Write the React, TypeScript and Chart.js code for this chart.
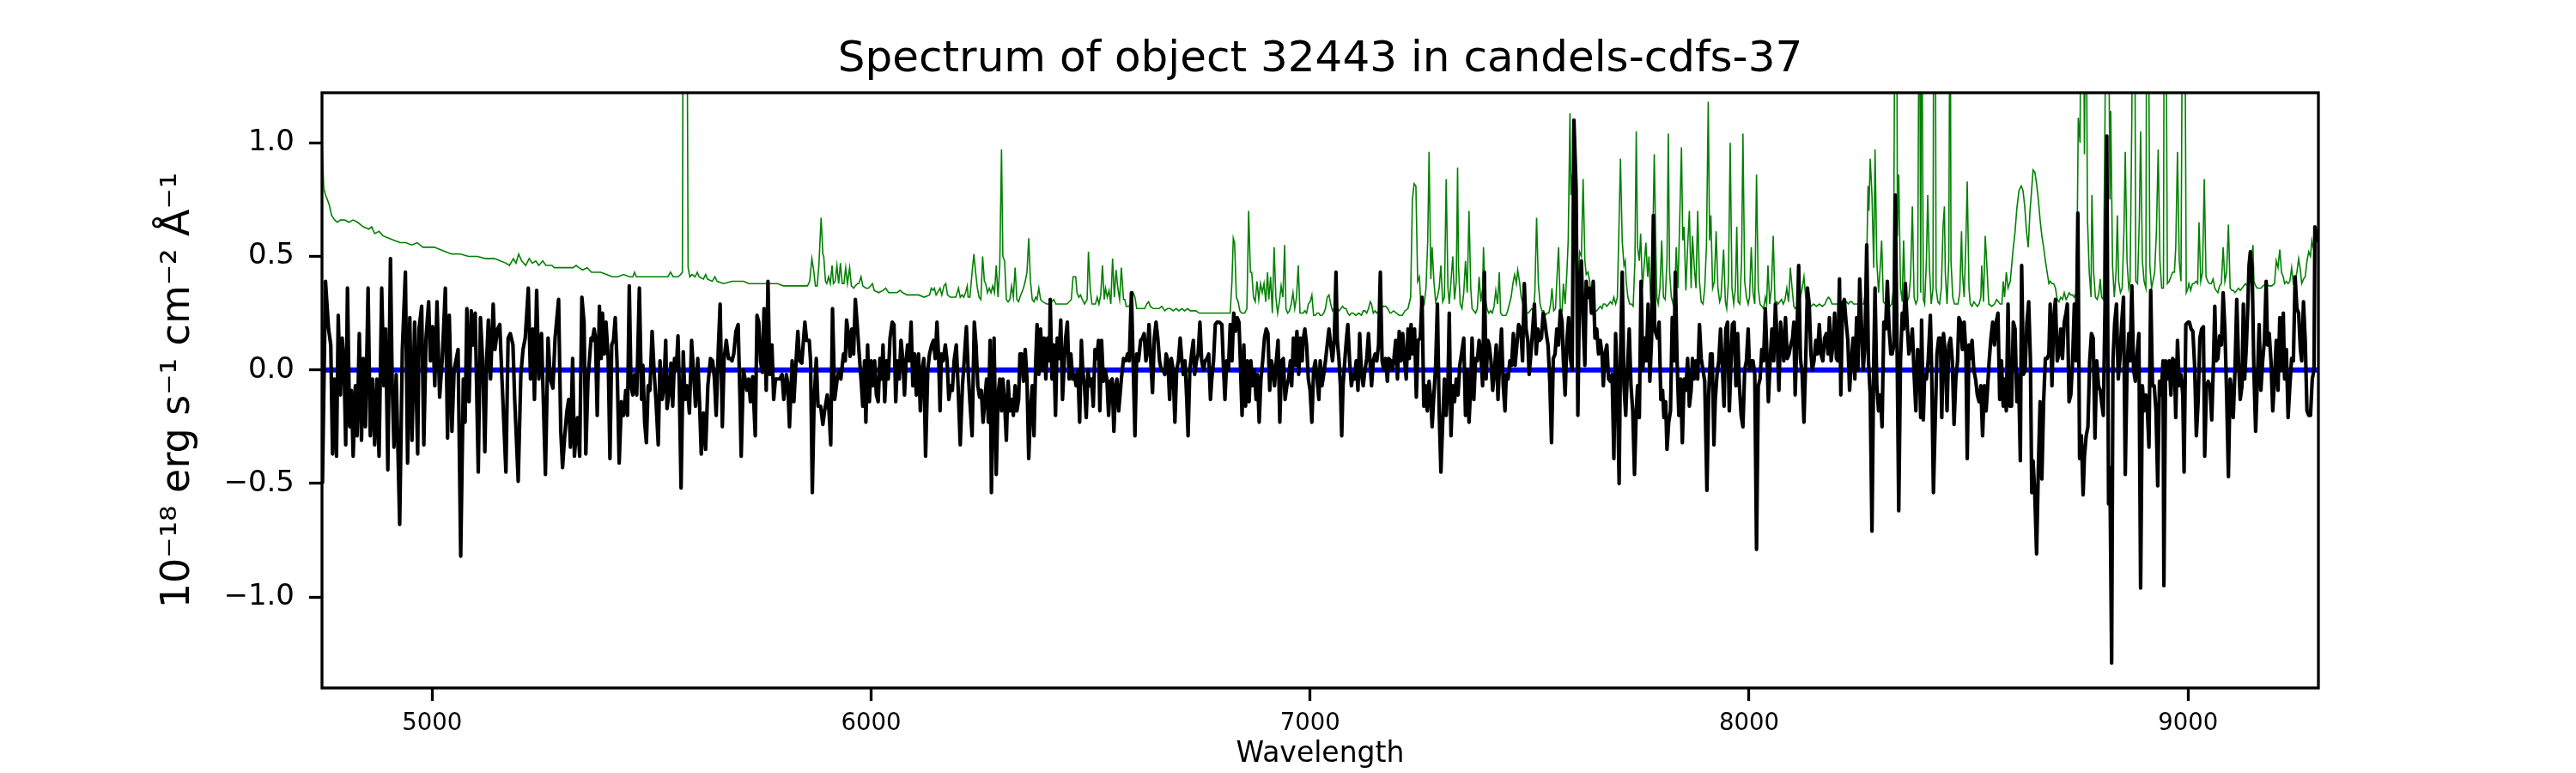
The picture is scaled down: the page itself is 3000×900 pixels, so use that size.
import { useEffect, useRef } from "react";
import { Chart, registerables } from "chart.js";

Chart.register(...registerables);

const TITLE = "Spectrum of object 32443 in candels-cdfs-37";
const X_LABEL = "Wavelength";
const Y_LABEL = "10⁻¹⁸ erg s⁻¹ cm⁻² Å⁻¹";
const X_TICKS = [5000, 6000, 7000, 8000, 9000];
const Y_TICKS = [-1.0, -0.5, 0.0, 0.5, 1.0];
const X_MIN = 4749;
const X_MAX = 9297;
const Y_MIN = -1.4;
const Y_MAX = 1.22;

// [wavelength, flux] of the zero reference line
const ZERO_LINE: Array<[number, number]> = [[4749, 0], [9297, 0]];

// [wavelength, flux] of the object spectrum (black)
const SPECTRUM: Array<[number, number]> = [
  [4750,-0.50],[4757,0.39],[4764,0.18],[4769,0.11],[4773,-0.37],[4777,-0.04],[4782,-0.38],[4786,0.24],[4791,-0.11],[4795,0.14],
  [4799,0.04],[4803,-0.33],[4807,0.36],[4812,-0.25],[4816,-0.09],[4820,-0.38],[4825,-0.07],[4829,-0.29],[4834,0.16],[4839,-0.31],
  [4843,0.05],[4848,-0.25],[4854,0.36],[4859,-0.29],[4864,-0.04],[4869,-0.33],[4874,-0.04],[4879,-0.38],[4885,0.36],[4890,-0.07],
  [4894,0.18],[4899,-0.44],[4905,0.49],[4909,-0.07],[4913,-0.34],[4918,-0.02],[4926,-0.68],[4932,0.09],[4939,0.43],[4944,-0.41],
  [4949,0.23],[4954,-0.31],[4960,0.21],[4967,-0.37],[4970,0.18],[4976,0.28],[4981,-0.33],[4986,0.14],[4992,0.30],[4996,0.04],
  [5001,0.19],[5006,-0.07],[5011,0.30],[5017,-0.12],[5023,0.05],[5030,0.36],[5035,-0.30],[5039,0.24],[5045,-0.27],[5050,0.0],
  [5054,0.04],[5059,0.09],[5065,-0.82],[5071,-0.04],[5075,-0.23],[5079,0.27],[5084,-0.14],[5089,0.26],[5094,0.11],[5098,0.25],
  [5105,-0.45],[5110,0.23],[5115,0.04],[5120,-0.36],[5124,0.04],[5128,0.22],[5133,-0.04],[5139,0.29],[5143,0.09],[5149,0.18],
  [5154,0.20],[5159,-0.04],[5168,-0.45],[5173,0.14],[5178,0.16],[5184,0.11],[5188,-0.13],[5196,-0.49],[5202,-0.02],[5207,0.09],
  [5212,0.14],[5219,0.36],[5224,-0.04],[5229,0.18],[5233,-0.13],[5238,0.35],[5243,-0.04],[5249,0.16],[5258,-0.46],[5264,0.14],
  [5269,-0.04],[5275,-0.08],[5280,0.14],[5288,0.31],[5293,-0.27],[5297,-0.43],[5302,-0.29],[5307,-0.18],[5311,-0.13],[5315,-0.34],
  [5320,0.05],[5324,-0.38],[5331,-0.21],[5336,-0.38],[5341,0.32],[5346,0.21],[5350,-0.37],[5355,-0.04],[5362,0.14],
  [5365,0.13],[5369,0.18],[5372,0.14],[5376,-0.20],[5381,0.28],[5385,0.05],[5388,0.25],[5392,0.07],[5396,0.21],[5401,0.05],
  [5405,-0.39],[5409,0.11],[5413,0.13],[5417,0.23],[5421,0.04],[5426,-0.41],[5431,-0.14],[5436,-0.20],[5441,-0.09],[5445,-0.20],
  [5449,0.37],[5453,-0.07],[5457,-0.11],[5461,-0.02],[5466,-0.11],[5472,0.36],[5477,-0.13],[5480,0.02],[5484,-0.23],[5488,-0.32],
  [5492,-0.07],[5496,-0.09],[5501,0.17],[5506,-0.02],[5510,-0.14],[5515,-0.33],[5519,0.04],[5524,-0.13],[5528,-0.07],[5532,0.13],
  [5535,-0.17],[5539,-0.11],[5544,0.03],[5548,-0.16],[5552,0.05],[5556,0.0],[5560,0.15],[5563,-0.07],[5567,-0.52],[5572,0.08],
  [5576,-0.13],[5581,-0.07],[5586,-0.19],[5591,0.13],[5595,0.0],[5600,-0.16],[5605,0.05],[5609,-0.14],[5613,-0.37],[5618,-0.19],
  [5623,-0.35],[5628,-0.07],[5634,0.05],[5639,0.04],[5643,-0.04],[5647,-0.20],[5652,0.10],[5656,0.29],[5661,-0.25],[5665,0.05],
  [5670,0.13],[5675,0.05],[5679,0.05],[5683,0.04],[5687,0.07],[5692,0.17],[5697,0.20],[5701,-0.11],[5704,-0.38],[5709,0.0],
  [5713,-0.04],[5717,-0.09],[5721,-0.04],[5725,-0.14],[5730,-0.03],[5736,-0.29],[5740,0.24],[5744,0.21],[5748,0.04],[5752,-0.01],
  [5756,0.27],[5761,-0.09],[5765,0.39],[5769,-0.02],[5774,0.11],[5778,-0.13],[5782,-0.04],[5787,-0.04],[5792,-0.04],[5797,-0.02],
  [5801,-0.13],[5807,-0.02],[5810,-0.06],[5814,-0.25],[5820,0.04],[5824,-0.14],[5829,0.04],[5833,0.17],[5837,0.04],[5842,0.03],
  [5849,0.21],[5853,0.13],[5859,0.13],[5862,0.04],[5866,-0.54],[5870,-0.14],[5875,0.05],[5879,-0.16],[5885,-0.16],[5890,-0.24],
  [5894,-0.18],[5900,-0.11],[5904,-0.18],[5908,-0.33],[5912,0.27],[5917,-0.13],[5922,-0.05],[5927,0.0],[5931,-0.04],[5937,0.07],
  [5941,0.04],[5944,0.22],[5948,0.16],[5952,0.06],[5956,0.18],[5960,0.07],[5964,0.31],[5969,0.18],
  [5972,0.09],[5977,-0.04],[5981,-0.16],[5985,0.04],[5988,-0.23],[5992,0.11],[5996,-0.14],[6000,0.04],[6004,-0.07],[6008,0.04],
  [6012,-0.11],[6016,-0.14],[6020,0.05],[6024,-0.04],[6027,0.11],[6031,-0.14],[6035,0.04],[6039,-0.04],[6043,0.14],[6048,0.21],
  [6052,0.20],[6056,-0.14],[6060,0.04],[6064,-0.04],[6068,0.13],[6072,0.05],[6076,-0.11],[6079,0.02],[6083,0.11],[6087,0.04],
  [6091,0.21],[6095,-0.07],[6099,0.07],[6103,-0.11],[6108,0.07],[6112,-0.18],[6116,0.0],[6120,0.05],[6124,-0.38],[6129,0.0],
  [6133,0.07],[6138,0.11],[6142,0.13],[6146,0.05],[6150,0.21],[6154,0.04],[6157,-0.18],[6160,0.07],[6164,0.04],[6169,0.11],
  [6173,0.04],[6177,-0.13],[6181,-0.07],[6185,-0.09],[6189,0.04],[6194,0.11],[6198,-0.07],[6203,-0.33],[6208,-0.07],[6212,0.04],
  [6217,0.19],[6221,0.0],[6225,-0.14],[6230,-0.29],[6235,0.21],[6239,0.11],[6243,-0.07],[6247,-0.12],[6251,-0.09],[6255,-0.23],
  [6259,-0.13],[6263,-0.04],[6267,-0.23],[6271,0.13],[6274,-0.54],[6280,0.14],[6285,-0.46],[6289,-0.11],[6293,-0.04],[6297,-0.18],
  [6300,-0.04],[6304,-0.14],[6308,-0.31],[6312,-0.05],[6316,-0.18],[6320,-0.13],[6324,-0.20],[6328,-0.07],[6332,-0.18],[6336,-0.13],
  [6339,0.07],[6343,0.07],[6347,-0.05],[6351,0.09],[6355,-0.04],[6359,-0.39],[6363,-0.18],[6367,-0.07],[6371,-0.29],[6375,0.04],
  [6378,0.20],[6382,-0.02],[6386,0.18],[6390,0.0],[6394,0.14],[6398,-0.04],[6402,0.14],[6406,0.04],[6408,0.31],[6412,-0.04],
  [6416,0.11],[6420,-0.20],[6424,0.14],[6428,0.05],[6432,0.22],[6436,-0.13],[6440,0.04],[6443,0.14],[6447,0.21],[6451,-0.04],
  [6455,0.07],[6459,-0.04],[6463,-0.02],[6467,-0.07],[6471,0.0],[6475,-0.23],[6479,0.13],[6482,0.0],[6486,-0.07],[6490,-0.21],
  [6494,0.0],[6498,-0.07],[6502,-0.04],[6506,-0.16],[6510,0.09],[6514,0.05],[6518,0.13],[6521,-0.18],[6525,0.13],[6529,-0.05],
  [6533,0.0],[6537,-0.04],[6541,-0.20],[6545,-0.05],[6549,-0.04],[6553,-0.27],[6557,-0.07],[6560,-0.04],[6564,-0.18],[6570,-0.04],
  [6575,0.05],
  [6580,0.04],[6584,0.07],[6588,0.04],[6593,0.34],[6597,0.02],[6601,-0.29],[6605,0.07],[6609,0.04],[6614,0.13],[6618,0.14],
  [6622,0.16],[6626,0.04],[6630,0.09],[6633,0.20],[6637,0.04],[6641,-0.10],[6645,0.14],[6649,0.21],[6653,0.14],[6657,0.04],
  [6661,0.0],[6665,0.0],[6669,-0.02],[6672,0.07],[6676,0.04],[6680,-0.13],[6684,0.05],[6688,0.0],[6692,-0.23],[6696,0.0],
  [6700,0.04],[6704,0.14],[6708,0.04],[6711,-0.02],[6715,0.04],[6719,-0.13],[6722,-0.29],[6726,0.0],[6730,0.07],[6734,0.13],
  [6737,-0.02],[6741,0.04],[6745,0.07],[6749,0.21],[6753,0.04],[6757,0.0],[6761,0.04],[6765,0.05],[6769,0.07],[6773,-0.13],
  [6776,-0.04],[6780,0.04],[6784,0.20],[6788,0.21],[6793,0.21],[6799,0.20],[6802,0.04],[6806,-0.13],[6810,0.04],[6814,0.0],
  [6818,0.20],[6822,0.04],[6826,0.25],[6830,0.17],[6834,0.23],[6838,0.21],[6841,0.04],[6845,-0.20],[6849,0.11],[6853,-0.16],
  [6857,0.04],[6861,-0.14],[6865,0.04],[6869,-0.07],[6873,0.0],[6877,-0.13],[6880,-0.02],[6884,-0.23],[6888,-0.04],[6892,0.04],
  [6896,0.14],[6900,0.18],[6904,0.16],[6908,-0.09],[6912,0.04],[6916,0.0],[6919,-0.07],[6923,0.04],[6927,0.13],[6931,-0.23],
  [6935,0.04],[6939,0.05],[6943,-0.13],[6947,-0.07],[6951,-0.04],[6955,0.04],[6958,-0.07],[6962,0.14],[6966,0.02],[6970,0.17],
  [6974,-0.02],[6978,0.14],[6982,0.04],[6984,0.13],[6988,0.18],[6992,0.11],[6996,-0.04],[7000,-0.09],[7004,-0.23],[7008,0.0],
  [7012,0.04],[7016,-0.04],[7020,-0.13],[7023,0.04],[7027,-0.07],[7031,-0.02],[7035,0.04],[7039,0.11],[7043,0.18],[7047,0.11],
  [7051,0.04],[7055,0.13],[7059,0.43],[7062,0.13],[7066,0.04],[7069,-0.07],[7072,-0.29],[7075,-0.07],[7079,0.04],[7083,0.14],
  [7086,0.20],[7090,0.04],[7094,-0.07],[7098,-0.02],[7101,-0.04],[7105,0.04],[7109,-0.09],[7113,0.16],[7117,-0.02],[7121,-0.07],
  [7125,0.0],[7129,0.05],[7133,0.16],[7137,0.02],[7140,-0.07],[7144,0.04],[7148,0.07],[7152,0.04],[7156,0.11],[7160,0.43],
  [7164,0.04],[7168,0.0],[7172,0.05],[7176,-0.05],[7179,0.05],
  [7184,0.04],[7187,0.0],[7191,0.05],[7195,0.13],[7199,-0.04],[7203,0.17],[7207,0.04],[7211,0.16],[7215,0.05],[7219,-0.04],
  [7223,0.18],[7226,0.05],[7230,0.20],[7234,0.07],[7238,0.18],[7242,-0.12],[7246,0.13],[7251,0.14],[7255,0.32],[7259,-0.16],
  [7263,-0.07],[7267,-0.18],[7271,-0.05],[7275,-0.13],[7278,-0.25],[7282,-0.11],[7286,0.02],[7290,0.29],[7294,-0.18],[7298,-0.45],
  [7302,-0.23],[7306,-0.04],[7310,-0.20],[7314,-0.07],[7317,0.25],[7321,-0.29],[7325,-0.07],[7329,-0.14],[7333,-0.04],[7337,-0.11],
  [7341,0.02],[7345,0.07],[7350,0.14],[7354,-0.20],[7358,0.0],[7362,-0.23],[7366,-0.07],[7369,0.14],[7373,-0.13],[7377,0.05],
  [7381,0.04],[7385,0.13],[7389,0.07],[7393,-0.07],[7397,0.43],[7401,-0.04],[7405,0.13],[7408,0.11],[7412,0.04],[7416,-0.09],
  [7420,0.0],[7424,0.11],[7428,-0.13],[7432,0.04],[7436,0.18],[7440,-0.07],[7444,-0.18],[7447,-0.02],[7451,-0.04],[7455,0.04],
  [7459,0.02],[7463,0.16],[7467,0.02],[7471,0.11],[7475,0.20],[7480,0.18],[7484,0.04],[7488,0.38],[7492,0.18],[7496,0.13],
  [7499,-0.02],[7503,0.07],[7507,0.18],[7511,0.29],[7515,0.07],[7519,0.18],[7523,0.13],[7527,0.14],[7531,0.25],[7535,0.21],
  [7538,0.16],[7542,0.11],[7546,-0.05],[7550,-0.32],[7554,0.05],[7558,0.07],[7562,0.18],[7566,0.11],[7570,0.26],[7574,0.21],
  [7577,0.04],[7581,-0.11],[7585,0.13],[7589,0.23],[7593,0.05],[7597,0.0],[7601,1.10],[7606,0.80],[7610,-0.20],[7614,0.39],
  [7618,0.48],[7622,0.21],[7626,0.02],[7629,0.39],[7633,0.32],[7637,0.36],[7641,0.25],[7645,0.39],[7649,0.14],[7653,0.18],
  [7657,0.07],[7661,0.13],[7665,0.07],[7668,-0.07],[7672,0.07],[7676,0.11],[7680,-0.04],[7684,-0.05],[7688,-0.02],[7692,-0.39],
  [7696,0.16],[7700,-0.07],[7704,-0.50],[7707,0.04],[7711,0.43],[7715,-0.07],[7719,-0.20],[7723,0.0],[7727,0.18],[7731,-0.07],
  [7735,-0.18],[7739,-0.46],[7743,-0.18],[7746,-0.07],[7750,-0.21],[7754,0.39],[7758,0.0],[7762,0.14],[7766,0.04],[7770,0.29],
  [7774,-0.05],[7778,0.14],[7782,0.68],[7785,0.18],
  [7791,0.14],[7795,0.21],[7799,-0.13],[7803,-0.09],[7806,-0.21],[7810,-0.14],[7813,-0.35],[7817,-0.23],[7821,-0.18],[7825,0.23],
  [7829,0.04],[7832,0.43],[7836,0.04],[7840,-0.20],[7844,-0.04],[7848,-0.32],[7852,-0.04],[7856,-0.09],[7860,0.05],[7864,-0.16],
  [7868,-0.09],[7871,0.05],[7875,-0.04],[7879,0.04],[7883,-0.04],[7887,0.20],[7891,0.05],[7895,0.0],[7899,-0.05],[7904,-0.53],
  [7908,-0.11],[7912,0.07],[7916,0.07],[7920,-0.33],[7923,-0.13],[7927,-0.02],[7931,0.04],[7935,0.18],[7939,0.02],[7943,-0.16],
  [7947,0.18],[7951,0.21],[7955,-0.18],[7959,0.04],[7962,0.20],[7966,0.21],[7970,-0.07],[7974,0.16],[7978,-0.07],[7982,-0.20],
  [7986,-0.25],[7990,0.0],[7994,0.04],[7998,0.18],[8001,0.0],[8005,0.04],[8009,0.04],[8013,-0.02],[8017,-0.79],[8021,-0.07],
  [8025,-0.04],[8029,0.09],[8033,0.04],[8037,0.27],[8040,0.11],[8044,-0.14],[8048,0.04],[8052,0.18],[8056,0.04],[8060,0.29],
  [8064,0.13],[8068,-0.09],[8072,0.21],[8076,0.11],[8079,0.04],[8083,0.23],[8087,0.05],[8091,0.07],[8095,0.11],[8099,0.14],
  [8102,0.21],[8105,-0.11],[8109,0.14],[8113,0.46],[8117,0.05],[8121,-0.02],[8125,-0.23],[8129,0.04],[8133,0.36],[8137,0.29],
  [8141,0.07],[8144,0.0],[8148,0.04],[8152,0.13],[8156,0.07],[8160,0.20],[8164,0.07],[8168,0.04],[8172,0.14],[8176,0.16],
  [8180,0.07],[8183,0.23],[8187,0.04],[8191,0.11],[8195,0.25],[8199,0.05],[8202,0.04],[8206,0.40],[8209,-0.11],[8213,0.29],
  [8217,0.31],[8221,0.21],[8225,0.13],[8229,-0.09],[8233,0.04],[8237,0.14],[8241,-0.04],[8245,0.23],[8248,0.0],[8252,0.40],
  [8256,0.20],[8260,0.0],[8264,0.11],[8268,0.55],[8272,0.04],[8276,-0.11],[8280,-0.71],[8284,0.04],[8287,0.36],[8291,-0.07],
  [8295,-0.18],[8299,-0.11],[8303,-0.25],[8307,0.21],[8311,0.18],[8315,0.39],[8319,0.18],[8323,0.07],[8326,0.07],[8330,0.11],
  [8333,0.77],[8337,0.14],[8341,-0.62],[8345,0.04],[8349,0.25],[8352,0.18],[8356,0.38],[8360,0.21],[8364,0.07],[8368,0.11],
  [8372,0.18],[8376,-0.02],[8380,-0.18],[8384,0.09],[8388,0.04],[8391,-0.21],
  [8393,0.22],[8397,-0.22],[8400,-0.02],[8404,-0.04],[8408,0.04],[8413,0.24],[8416,0.0],[8420,-0.54],[8424,-0.23],[8428,0.07],
  [8432,0.14],[8436,0.14],[8439,-0.21],[8443,0.16],[8447,0.07],[8451,-0.18],[8455,0.11],[8459,0.14],[8463,0.04],[8467,-0.24],
  [8471,-0.04],[8475,0.04],[8478,0.23],[8482,0.21],[8486,0.09],[8490,0.21],[8494,0.07],[8497,-0.39],[8501,0.11],[8504,0.05],
  [8508,0.13],[8512,0.0],[8516,-0.04],[8520,-0.11],[8524,-0.14],[8528,-0.07],[8532,-0.29],[8536,-0.07],[8540,-0.18],[8543,-0.09],
  [8547,0.04],[8551,0.14],[8555,0.21],[8559,0.11],[8563,0.21],[8567,0.25],[8571,-0.13],[8575,0.04],[8579,-0.16],[8582,-0.04],
  [8586,-0.18],[8590,0.29],[8594,-0.16],[8598,-0.16],[8602,0.21],[8606,0.18],[8610,-0.14],[8614,-0.02],[8618,-0.40],[8621,0.46],
  [8625,-0.02],[8629,0.0],[8633,0.21],[8637,0.30],[8641,0.04],[8644,-0.54],[8647,-0.40],[8651,-0.55],[8655,-0.81],[8659,-0.43],
  [8663,-0.14],[8667,-0.48],[8671,-0.14],[8675,0.05],[8679,0.05],[8683,0.07],[8686,0.29],[8690,-0.07],[8694,0.23],[8698,0.31],
  [8702,0.04],[8706,0.07],[8710,0.18],[8714,0.05],[8718,0.21],[8722,0.25],[8725,0.29],[8729,-0.14],[8733,-0.11],[8737,0.04],
  [8741,0.29],[8745,0.04],[8749,0.69],[8753,-0.39],[8757,-0.29],[8761,-0.55],[8764,-0.38],[8768,-0.29],[8772,-0.25],[8776,0.04],
  [8780,0.16],[8784,0.14],[8788,-0.30],[8792,0.04],[8796,-0.07],[8800,-0.09],[8803,-0.14],[8807,-0.20],[8811,0.29],[8815,1.03],
  [8819,-0.59],[8822,-0.43],[8826,-1.29],[8829,0.04],[8833,0.21],[8837,0.29],[8841,-0.04],[8845,0.05],[8849,0.21],[8853,0.32],
  [8857,-0.46],[8861,0.0],[8865,0.16],[8868,0.04],[8872,0.37],[8876,0.0],[8880,-0.05],[8884,0.07],[8888,0.16],[8892,-0.96],
  [8896,-0.07],[8900,-0.18],[8904,-0.11],[8907,-0.16],[8911,-0.34],[8915,0.35],[8919,-0.07],[8923,-0.07],[8927,-0.18],[8931,-0.51],
  [8935,-0.05],[8939,-0.11],[8943,0.04],[8945,-0.95],[8949,0.04],[8953,-0.04],[8957,0.04],[8961,-0.11],[8965,0.05],[8969,0.04],
  [8972,-0.21],[8976,0.13],[8980,-0.07],[8984,-0.02],[8988,-0.11],[8991,-0.45],[8995,0.20],[9000,0.21],
  [9003,0.21],[9007,0.18],[9011,0.17],[9015,0.02],[9019,-0.29],[9023,-0.14],[9027,0.14],[9031,0.18],[9035,0.19],[9038,-0.38],
  [9042,-0.07],[9046,-0.05],[9050,-0.07],[9054,-0.22],[9058,0.04],[9061,0.28],[9064,0.04],[9068,0.05],[9072,0.15],[9076,0.11],
  [9080,0.34],[9084,0.18],[9088,-0.11],[9092,-0.47],[9096,-0.04],[9100,-0.11],[9103,-0.21],[9107,0.0],[9111,0.31],[9115,0.04],
  [9119,-0.13],[9123,-0.07],[9126,0.29],[9129,-0.04],[9133,0.11],[9136,0.27],[9139,0.46],[9142,0.52],[9146,0.45],[9150,0.0],
  [9154,-0.27],[9158,-0.04],[9162,0.20],[9166,-0.09],[9170,0.04],[9174,0.13],[9178,0.39],[9181,0.11],[9185,0.16],[9189,0.04],
  [9193,-0.18],[9197,-0.04],[9201,0.13],[9205,-0.09],[9209,0.23],[9213,0.0],[9217,0.25],[9220,-0.04],[9224,0.09],[9228,-0.21],
  [9232,-0.07],[9236,0.05],[9240,0.04],[9244,0.41],[9248,0.27],[9252,0.25],[9256,0.09],[9259,0.04],[9263,0.30],[9267,0.13],
  [9271,-0.18],[9275,-0.20],[9279,-0.20],[9283,-0.04],[9287,0.0],[9289,0.63],[9293,0.57],[9297,0.62],
];

// [wavelength, flux] of the noise / sky spectrum (green)
const SKY: Array<[number, number]> = [
  [4749,1.00],[4753,0.80],[4757,0.77],[4761,0.75],[4765,0.73],[4771,0.68],[4778,0.66],[4784,0.65],[4791,0.66],[4801,0.66],
  [4810,0.65],[4820,0.66],[4830,0.65],[4843,0.63],[4856,0.62],[4862,0.63],[4869,0.60],[4879,0.61],[4888,0.59],[4901,0.58],
  [4914,0.57],[4927,0.56],[4940,0.56],[4953,0.55],[4966,0.56],[4979,0.54],[4992,0.54],[5005,0.54],[5018,0.53],[5031,0.52],
  [5044,0.51],[5064,0.51],[5083,0.50],[5103,0.50],[5122,0.49],[5142,0.49],[5155,0.48],[5168,0.47],[5176,0.46],[5185,0.49],
  [5191,0.47],[5197,0.51],[5204,0.48],[5213,0.46],[5221,0.49],[5228,0.47],[5236,0.48],[5243,0.46],[5252,0.48],[5259,0.46],
  [5267,0.46],[5273,0.46],[5278,0.45],[5288,0.45],[5298,0.45],[5311,0.45],[5321,0.45],[5328,0.46],[5334,0.45],[5343,0.44],
  [5353,0.45],[5363,0.43],
  [5371,0.43],[5384,0.43],[5397,0.42],[5410,0.41],[5423,0.41],[5436,0.42],[5449,0.41],[5457,0.41],[5461,0.43],[5465,0.41],
  [5475,0.41],[5488,0.41],[5501,0.41],[5514,0.41],[5527,0.41],[5537,0.41],[5543,0.43],[5549,0.41],[5560,0.41],[5566,0.42],
  [5570,0.43],[5572,2.0],[5576,3.0],[5580,2.0],[5583,0.45],[5587,0.41],[5592,0.42],[5599,0.41],[5604,0.43],[5608,0.41],
  [5618,0.40],[5623,0.42],[5627,0.40],[5638,0.39],[5644,0.41],[5649,0.39],[5664,0.38],[5683,0.39],[5696,0.39],[5709,0.39],
  [5722,0.38],[5735,0.38],[5748,0.38],[5761,0.38],[5774,0.38],[5787,0.38],[5800,0.37],[5813,0.37],[5826,0.37],[5839,0.37],
  [5855,0.37],[5860,0.39],[5865,0.49],[5869,0.44],[5873,0.37],[5877,0.37],[5881,0.46],[5886,0.67],[5890,0.51],[5892,0.50],
  [5896,0.39],[5899,0.38],[5903,0.41],[5907,0.38],[5911,0.46],[5914,0.38],[5918,0.39],[5922,0.46],[5926,0.38],[5930,0.47],
  [5934,0.38],[5938,0.38],[5942,0.45],[5946,0.38],[5951,0.45],[5955,0.37],[5960,0.36],[5964,0.37],[5969,0.38],
  [5972,0.38],[5977,0.41],[5981,0.37],[5988,0.36],[5994,0.36],[5999,0.37],[6003,0.38],[6007,0.35],[6017,0.34],[6027,0.35],
  [6033,0.36],[6040,0.34],[6050,0.34],[6059,0.34],[6066,0.35],[6072,0.34],[6082,0.33],[6095,0.33],[6108,0.33],[6121,0.32],
  [6133,0.33],[6137,0.36],[6141,0.35],[6144,0.36],[6148,0.33],[6154,0.35],[6157,0.36],[6161,0.33],[6166,0.37],[6170,0.38],
  [6174,0.33],[6180,0.32],[6186,0.32],[6193,0.32],[6199,0.36],[6203,0.32],[6207,0.33],[6211,0.32],[6215,0.34],[6219,0.37],
  [6221,0.32],[6225,0.32],[6230,0.43],[6234,0.51],[6238,0.43],[6242,0.36],[6246,0.32],[6250,0.31],[6254,0.50],[6258,0.39],
  [6261,0.38],[6265,0.34],[6269,0.36],[6273,0.34],[6277,0.37],[6281,0.34],[6285,0.46],[6289,0.32],[6293,0.46],[6297,0.97],
  [6300,0.50],[6304,0.48],[6308,0.31],[6312,0.30],[6316,0.31],[6320,0.37],[6324,0.32],[6328,0.45],[6332,0.31],[6336,0.30],
  [6339,0.32],[6343,0.34],[6347,0.36],[6351,0.39],[6355,0.43],[6359,0.58],[6363,0.39],[6367,0.31],[6371,0.30],[6375,0.32],
  [6378,0.31],[6382,0.36],[6386,0.31],[6391,0.30],[6400,0.29],[6407,0.29],[6416,0.31],[6421,0.29],[6433,0.29],[6446,0.29],
  [6456,0.31],[6460,0.41],[6466,0.41],[6469,0.34],[6473,0.32],[6477,0.33],[6481,0.31],[6486,0.29],[6492,0.31],[6495,0.52],
  [6499,0.36],[6503,0.29],[6507,0.29],[6511,0.29],[6515,0.32],[6519,0.29],[6523,0.33],[6527,0.46],[6531,0.31],[6534,0.36],
  [6538,0.32],[6542,0.35],[6546,0.29],[6550,0.49],[6554,0.32],[6558,0.44],[6562,0.36],[6566,0.31],[6570,0.45],[6575,0.31],
  [6578,0.31],[6581,0.28],[6587,0.28],[6592,0.29],[6597,0.34],[6601,0.32],[6605,0.27],[6610,0.27],[6617,0.27],[6623,0.27],
  [6628,0.29],[6632,0.30],[6636,0.28],[6643,0.27],[6649,0.27],[6656,0.27],[6662,0.28],[6669,0.26],[6675,0.27],[6682,0.27],
  [6688,0.26],[6695,0.27],[6701,0.26],[6708,0.27],[6714,0.26],[6721,0.27],[6727,0.26],[6734,0.26],[6740,0.26],[6747,0.25],
  [6753,0.25],[6766,0.25],[6779,0.25],[6792,0.25],[6805,0.25],[6818,0.25],[6822,0.39],[6825,0.58],[6828,0.56],[6832,0.32],
  [6836,0.30],[6840,0.26],[6844,0.25],[6851,0.25],[6856,0.27],[6860,0.70],[6864,0.43],[6867,0.43],[6871,0.32],[6875,0.30],
  [6879,0.39],[6883,0.31],[6887,0.38],[6891,0.34],[6895,0.38],[6899,0.30],[6903,0.43],[6906,0.31],[6910,0.41],[6914,0.25],
  [6918,0.54],[6922,0.32],[6926,0.25],[6930,0.30],[6934,0.37],[6938,0.32],[6942,0.55],[6945,0.27],[6949,0.25],[6953,0.26],
  [6957,0.29],[6961,0.34],[6965,0.27],[6969,0.32],[6973,0.46],[6977,0.25],[6981,0.25],[6984,0.25],[6988,0.26],[6992,0.25],
  [6996,0.29],[7000,0.30],[7004,0.33],[7008,0.24],[7012,0.24],[7016,0.25],[7020,0.25],[7023,0.24],[7027,0.24],[7031,0.25],
  [7035,0.27],[7039,0.32],[7043,0.33],[7047,0.29],[7051,0.26],[7055,0.27],[7059,0.25],[7062,0.27],[7066,0.26],[7070,0.27],
  [7074,0.28],[7078,0.27],[7082,0.27],[7086,0.25],[7090,0.24],[7094,0.25],[7098,0.25],[7104,0.24],[7111,0.25],[7117,0.24],
  [7121,0.26],[7125,0.26],[7129,0.25],[7133,0.27],[7137,0.30],[7140,0.29],[7144,0.25],[7148,0.26],[7152,0.25],[7156,0.26],
  [7161,0.27],[7166,0.28],[7172,0.28],[7177,0.27],[7182,0.25],
  [7184,0.25],[7190,0.26],[7197,0.25],[7203,0.24],[7210,0.24],[7216,0.26],[7223,0.27],[7229,0.32],[7233,0.75],[7237,0.82],
  [7241,0.81],[7245,0.39],[7249,0.41],[7252,0.30],[7256,0.31],[7260,0.29],[7264,0.36],[7268,0.57],[7271,0.96],[7275,0.40],
  [7278,0.54],[7282,0.39],[7286,0.30],[7290,0.32],[7294,0.36],[7298,0.46],[7302,0.30],[7306,0.32],[7310,0.84],[7314,0.36],
  [7317,0.29],[7321,0.39],[7325,0.50],[7329,0.31],[7333,0.39],[7336,0.89],[7338,0.46],[7342,0.29],[7346,0.27],[7350,0.34],
  [7354,0.48],[7358,0.34],[7362,0.70],[7366,0.36],[7369,0.27],[7373,0.26],[7377,0.25],[7381,0.27],[7385,0.41],[7389,0.30],
  [7393,0.36],[7395,0.54],[7399,0.32],[7403,0.27],[7407,0.25],[7411,0.26],[7415,0.25],[7419,0.28],[7423,0.35],[7427,0.29],
  [7431,0.43],[7434,0.25],[7438,0.24],[7442,0.24],[7446,0.24],[7450,0.26],[7454,0.29],[7458,0.32],[7462,0.38],[7466,0.42],
  [7470,0.38],[7473,0.44],[7477,0.39],[7481,0.32],[7485,0.29],[7489,0.27],[7493,0.25],[7497,0.25],[7501,0.26],[7505,0.27],
  [7509,0.26],[7512,0.34],[7516,0.67],[7520,0.38],[7524,0.29],[7528,0.26],[7532,0.26],[7536,0.24],[7540,0.25],[7544,0.25],
  [7548,0.29],[7551,0.36],[7555,0.26],[7559,0.27],[7563,0.43],[7566,0.54],[7570,0.27],[7574,0.26],[7577,0.38],[7581,0.29],
  [7585,0.43],[7588,0.57],[7592,1.13],[7594,0.77],[7597,0.86],[7601,0.54],[7606,0.46],[7610,0.38],[7614,0.52],[7618,0.50],
  [7622,0.84],[7626,0.48],[7629,0.42],[7633,0.43],[7637,0.39],[7641,0.32],[7645,0.29],[7649,0.26],[7653,0.26],[7657,0.27],
  [7661,0.28],[7665,0.27],[7668,0.29],[7672,0.29],[7676,0.28],[7680,0.29],[7684,0.30],[7688,0.29],[7692,0.32],[7696,0.29],
  [7700,0.32],[7704,0.66],[7707,0.93],[7711,0.57],[7715,0.46],[7718,0.48],[7720,0.39],[7724,0.32],[7728,0.29],[7732,0.29],
  [7736,0.28],[7740,0.48],[7743,1.05],[7746,0.54],[7750,0.48],[7753,0.60],[7757,0.36],[7761,0.46],[7765,0.56],[7769,0.41],
  [7772,0.50],[7776,0.30],[7780,0.48],[7784,0.95],[7788,0.50],
  [7790,0.32],[7793,0.29],[7797,0.36],[7801,0.57],[7805,0.32],[7809,0.31],[7813,0.48],[7816,1.04],[7819,0.43],[7823,0.32],
  [7827,0.29],[7831,0.34],[7834,0.54],[7838,0.36],[7842,0.66],[7846,0.98],[7849,0.57],[7852,0.63],[7856,0.35],[7860,0.54],
  [7864,0.70],[7868,0.36],[7871,0.59],[7875,0.46],[7879,0.36],[7883,0.70],[7887,0.39],[7891,0.30],[7895,0.29],[7899,0.36],
  [7903,0.55],[7907,1.18],[7910,0.57],[7913,0.68],[7917,0.36],[7921,0.39],[7925,0.61],[7929,0.36],[7933,0.30],[7936,0.32],
  [7942,0.53],[7946,0.30],[7949,0.27],[7953,0.39],[7957,1.00],[7961,0.36],[7965,0.29],[7969,0.36],[7972,0.63],[7975,0.30],
  [7979,0.29],[7983,0.48],[7986,1.04],[7990,0.39],[7994,0.32],[7998,0.29],[8001,0.32],[8005,0.54],[8009,0.34],[8013,0.29],
  [8017,0.86],[8021,0.36],[8025,0.29],[8029,0.28],[8033,0.27],[8037,0.32],[8040,0.29],[8043,0.46],[8047,0.29],[8051,0.36],
  [8055,0.59],[8059,0.30],[8063,0.30],[8066,0.29],[8070,0.30],[8074,0.31],[8078,0.29],[8082,0.31],[8086,0.36],[8090,0.30],
  [8094,0.45],[8098,0.36],[8102,0.28],[8105,0.27],[8109,0.28],[8113,0.29],[8117,0.32],[8121,0.36],[8125,0.41],[8129,0.32],
  [8133,0.29],[8137,0.29],[8141,0.28],[8147,0.29],[8154,0.28],[8160,0.29],[8167,0.28],[8173,0.29],[8177,0.31],[8181,0.32],
  [8185,0.31],[8189,0.29],[8193,0.29],[8196,0.29],[8200,0.29],[8204,0.29],[8209,0.29],[8215,0.29],[8219,0.29],[8222,0.30],
  [8226,0.29],[8230,0.30],[8234,0.30],[8238,0.29],[8242,0.29],[8246,0.29],[8250,0.29],[8254,0.28],[8258,0.29],[8261,0.29],
  [8267,0.36],[8271,0.81],[8273,0.70],[8276,0.93],[8280,0.77],[8284,0.45],[8287,0.97],[8291,0.48],[8295,0.34],[8299,0.46],
  [8302,0.57],[8306,0.30],[8310,0.29],[8313,0.31],[8317,0.30],[8321,0.28],[8325,0.29],[8329,0.36],[8333,2.0],[8336,2.0],
  [8338,0.59],[8341,0.86],[8345,0.36],[8349,0.30],[8352,0.57],[8356,0.32],[8360,0.30],[8364,0.32],[8368,0.41],[8372,0.72],
  [8376,0.32],[8380,0.29],[8384,0.31],[8388,2.0],[8391,0.34],
  [8393,2.0],[8397,0.31],[8400,0.29],[8404,0.48],[8407,0.77],[8411,0.45],[8415,0.29],[8419,0.36],[8421,2.0],[8424,2.0],
  [8426,0.36],[8430,0.30],[8434,0.29],[8438,0.36],[8442,0.63],[8445,0.72],[8447,0.43],[8451,0.29],[8455,0.48],[8458,2.0],
  [8460,0.48],[8464,0.32],[8468,0.29],[8472,0.29],[8476,0.29],[8480,0.34],[8484,0.61],[8486,0.43],[8490,0.32],[8494,0.57],
  [8497,0.83],[8501,0.36],[8504,0.29],[8508,0.28],[8512,0.30],[8516,0.29],[8520,0.28],[8524,0.29],[8528,0.32],[8530,0.46],
  [8534,0.30],[8538,0.59],[8542,0.45],[8546,0.29],[8553,0.28],[8559,0.29],[8564,0.31],[8568,0.30],[8572,0.29],[8576,0.29],
  [8579,0.39],[8582,0.32],[8586,0.43],[8590,0.36],[8595,0.39],[8601,0.52],[8606,0.61],[8610,0.71],[8615,0.79],[8620,0.81],
  [8624,0.79],[8628,0.72],[8632,0.61],[8636,0.54],[8640,0.70],[8644,0.80],[8647,0.88],[8651,0.87],[8655,0.82],[8659,0.75],
  [8663,0.66],[8667,0.59],[8671,0.54],[8675,0.48],[8679,0.43],[8683,0.38],[8686,0.39],[8690,0.38],[8694,0.38],[8698,0.36],
  [8702,0.31],[8706,0.30],[8710,0.32],[8714,0.31],[8718,0.34],[8722,0.31],[8725,0.32],[8729,0.34],[8733,0.33],[8737,0.33],
  [8741,0.32],[8745,0.34],[8748,0.70],[8750,1.11],[8754,1.00],[8757,2.0],[8761,2.0],[8764,0.95],[8767,2.0],[8771,0.66],
  [8775,0.43],[8779,0.32],[8781,0.77],[8785,0.43],[8789,0.32],[8793,0.31],[8797,0.34],[8800,0.40],[8803,0.32],[8807,0.31],
  [8811,1.14],[8814,2.0],[8818,2.0],[8822,0.75],[8824,1.14],[8828,0.46],[8832,0.32],[8836,0.43],[8839,0.68],[8842,0.39],
  [8846,0.34],[8850,0.36],[8854,0.61],[8857,0.96],[8861,0.48],[8865,0.36],[8868,0.39],[8872,1.11],[8875,2.0],[8878,2.0],
  [8881,0.39],[8885,0.38],[8889,0.66],[8892,1.05],[8896,0.48],[8900,0.39],[8904,0.36],[8906,2.0],[8909,2.0],[8913,0.46],
  [8917,0.36],[8920,0.39],[8924,0.43],[8928,0.61],[8932,0.97],[8936,0.48],[8940,0.36],[8944,0.36],[8946,2.0],[8949,2.0],
  [8953,0.38],[8957,0.39],[8961,0.41],[8965,0.43],[8969,0.43],[8972,0.54],[8976,0.96],[8980,0.48],[8984,0.39],[8988,2.0],
  [8992,2.0],[8996,0.34],[9000,0.36],
  [9002,0.38],[9006,0.35],[9010,0.38],[9014,0.38],[9018,0.39],[9022,0.38],[9025,0.65],[9029,0.39],[9033,0.43],[9037,0.84],
  [9041,0.41],[9045,0.39],[9049,0.38],[9053,0.38],[9057,0.40],[9061,0.36],[9064,0.35],[9068,0.34],[9072,0.37],[9076,0.38],
  [9080,0.54],[9084,0.39],[9088,0.43],[9092,0.64],[9096,0.36],[9100,0.35],[9103,0.35],[9107,0.34],[9111,0.35],[9115,0.36],
  [9119,0.35],[9123,0.36],[9127,0.37],[9131,0.38],[9135,0.37],[9139,0.38],[9142,0.39],[9145,0.50],[9148,0.55],[9150,0.39],
  [9154,0.37],[9158,0.36],[9162,0.36],[9166,0.36],[9171,0.37],[9178,0.38],[9184,0.37],[9191,0.37],[9197,0.38],[9201,0.48],
  [9205,0.45],[9209,0.53],[9213,0.43],[9217,0.41],[9220,0.38],[9224,0.39],[9228,0.38],[9232,0.39],[9236,0.45],[9240,0.38],
  [9244,0.39],[9248,0.43],[9252,0.49],[9256,0.44],[9259,0.38],[9263,0.40],[9267,0.41],[9271,0.48],[9275,0.52],[9279,0.50],
  [9282,0.57],[9285,0.54],[9289,0.55],[9293,0.58],[9297,0.60],
];

const FONT = "'DejaVu Sans', sans-serif";

const toPoints = (rows: Array<[number, number]>) => rows.map(([x, y]) => ({ x, y }));

const fmtY = (v: number) => {
  const s = Math.abs(v).toFixed(1);
  return v < 0 ? "\u2212" + s : s;
};

const framePlugin = {
  id: "frame",
  afterDatasetsDraw(chart: any) {
    const { ctx, chartArea: a } = chart;
    ctx.save();
    ctx.strokeStyle = "#000";
    ctx.lineWidth = 3.3;
    ctx.strokeRect(a.left, a.top, a.right - a.left, a.bottom - a.top);
    ctx.restore();
  },
};

export default function App() {
  const ref = useRef<HTMLCanvasElement | null>(null);

  useEffect(() => {
    if (!ref.current) return;
    const chart = new Chart(ref.current, {
      type: "line",
      data: {
        datasets: [
          {
            label: "spectrum",
            data: toPoints(SPECTRUM),
            borderColor: "#000000",
            borderWidth: 4.2,
            pointRadius: 0,
            tension: 0,
            borderJoinStyle: "round",
            order: 0,
          },
          {
            label: "zero",
            data: toPoints(ZERO_LINE),
            borderColor: "#0000ff",
            borderWidth: 6,
            pointRadius: 0,
            order: 1,
          },
          {
            label: "sky",
            data: toPoints(SKY),
            borderColor: "#008000",
            borderWidth: 1.6,
            pointRadius: 0,
            tension: 0,
            order: 2,
          },
        ],
      },
      options: {
        animation: false,
        responsive: false,
        devicePixelRatio: 1,
        events: [],
        layout: { padding: { left: 0, right: 300, top: 0, bottom: 0 } },
        plugins: {
          legend: { display: false },
          tooltip: { enabled: false },
          title: {
            display: true,
            fullSize: false,
            text: TITLE,
            color: "#000",
            font: { family: FONT, size: 50, weight: "normal" },
            padding: { top: 40, bottom: 8 },
          },
        },
        scales: {
          x: {
            type: "linear",
            min: X_MIN,
            max: X_MAX,
            afterBuildTicks: (s: any) => {
              s.ticks = X_TICKS.map((v) => ({ value: v }));
            },
            afterFit: (s: any) => {
              s.height = 99;
            },
            ticks: {
              color: "#000",
              font: { family: FONT, size: 27.5 },
              padding: 10,
              maxRotation: 0,
              autoSkip: false,
              callback: (v: any) => String(v),
            },
            grid: {
              drawOnChartArea: false,
              drawTicks: true,
              tickLength: 15,
              tickWidth: 3.3,
              tickColor: "#000",
            },
            border: { display: false },
            title: {
              display: true,
              text: X_LABEL,
              color: "#000",
              font: { family: FONT, size: 33 },
              padding: { top: 0, bottom: 2 },
            },
          },
          y: {
            type: "linear",
            min: Y_MIN,
            max: Y_MAX,
            afterBuildTicks: (s: any) => {
              s.ticks = Y_TICKS.map((v) => ({ value: v }));
            },
            afterFit: (s: any) => {
              s.width = 375;
            },
            ticks: {
              color: "#000",
              font: { family: FONT, size: 34 },
              padding: 17,
              autoSkip: false,
              callback: (v: any) => fmtY(Number(v)),
            },
            grid: {
              drawOnChartArea: false,
              drawTicks: true,
              tickLength: 15,
              tickWidth: 3.3,
              tickColor: "#000",
            },
            border: { display: false },
            title: {
              display: true,
              text: Y_LABEL,
              color: "#000",
              font: { family: FONT, size: 46 },
              padding: { top: 180, bottom: 0 },
            },
          },
        },
      } as any,
      plugins: [framePlugin],
    });
    return () => chart.destroy();
  }, []);

  return (
    <div style={{ position: "absolute", left: 0, top: 0, width: 3000, height: 900, background: "#fff" }}>
      <canvas ref={ref} width={3000} height={900} style={{ width: 3000, height: 900, display: "block" }} />
    </div>
  );
}
